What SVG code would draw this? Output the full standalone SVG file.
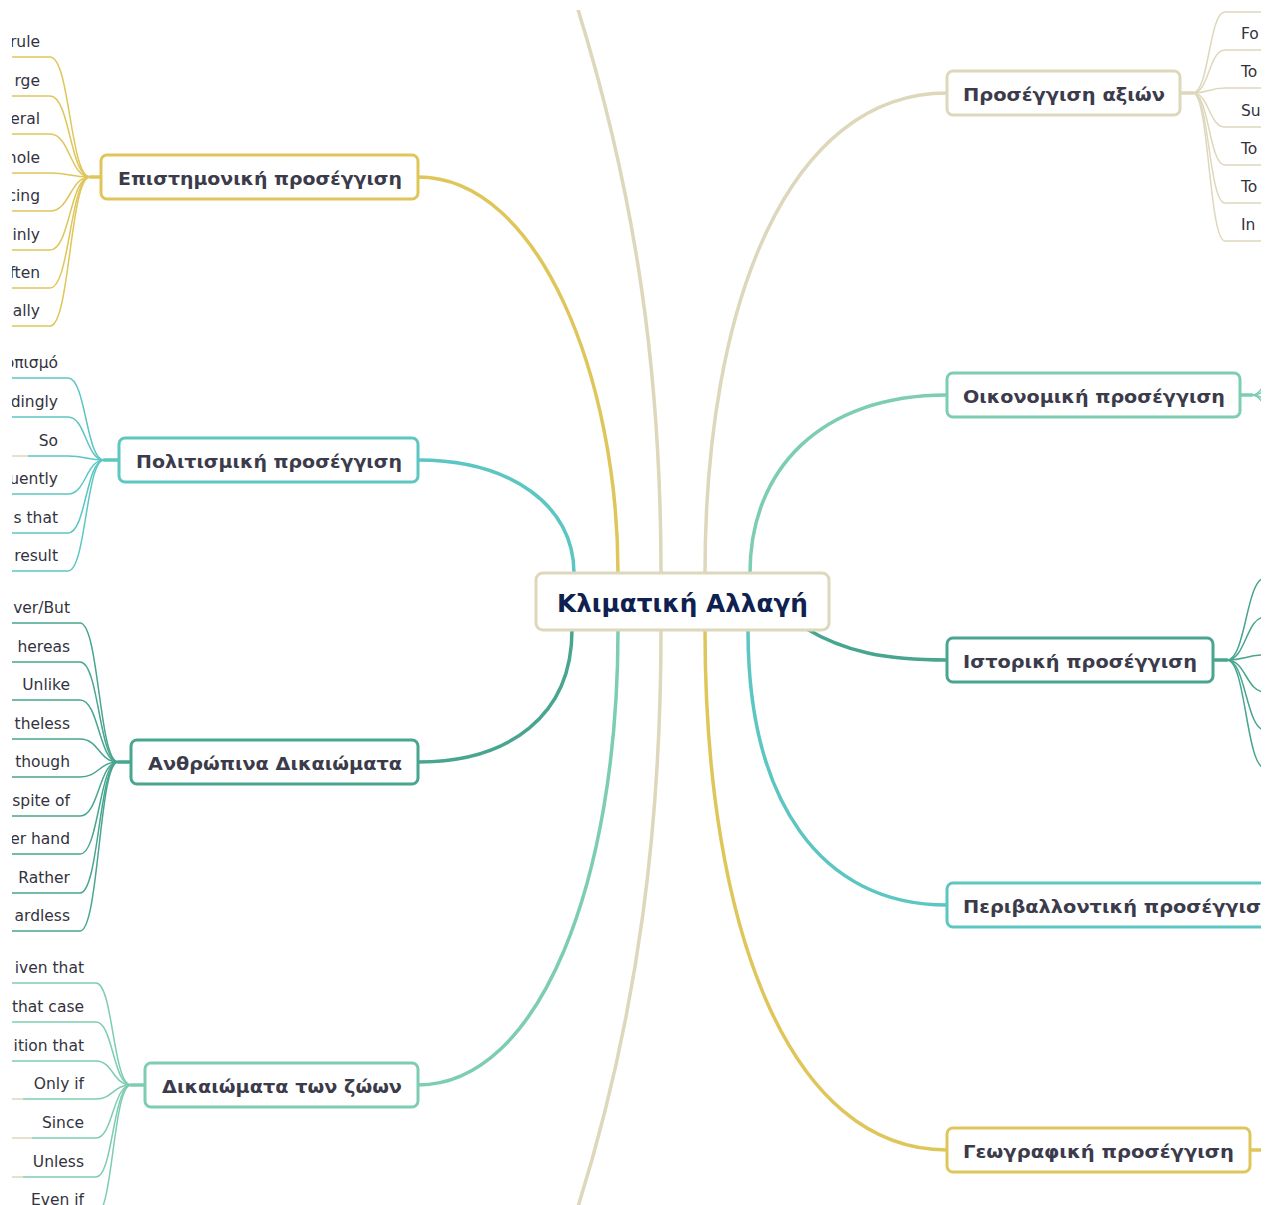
<svg xmlns="http://www.w3.org/2000/svg" width="1272" height="1205" viewBox="0 0 1272 1205">
<defs>
<clipPath id="view"><rect x="12" y="10" width="1249" height="1195"/></clipPath>
<style>
.bx{fill:#fff;stroke-width:3}
.t{font-family:"DejaVu Sans",Verdana,sans-serif;font-weight:bold;font-size:18px;fill:#3b3b4b}
.ct{font-family:"DejaVu Sans",Verdana,sans-serif;font-weight:bold;font-size:24px;fill:#0e2150}
.lf{font-family:"DejaVu Sans",Verdana,sans-serif;font-size:15.5px;fill:#333340}
.lr{text-anchor:end}
.m{fill:none;stroke-width:3.5;stroke-linecap:round}
.l{fill:none;stroke-width:1.5}
.y{stroke:#dfc65b}.b{stroke:#ddd7bc}.tl{stroke:#5cc6c2}.dt{stroke:#48a58f}.g{stroke:#7dcdb0}
</style>
</defs>
<rect width="1272" height="1205" fill="#fff"/>
<g clip-path="url(#view)">
<g id="connectors">
<path class="m b" d="M661,573 C661,380 638,200 575,0"/>
<path class="m b" d="M661,630 C661,820 640,1010 577,1210"/>
<path class="m y" d="M418,177 C540,177 618,380 618,573"/>
<path class="m tl" d="M418,460 C510,460 574,505 574,573"/>
<path class="m dt" d="M418,762 C510,762 572,715 572,630"/>
<path class="m g" d="M418,1085 C540,1085 618,880 618,630"/>
<path class="m b" d="M947,93 C790,93 705,300 705,573"/>
<path class="m g" d="M947,395 C820,395 750,470 750,573"/>
<path class="m dt" d="M805,628 C845,652 885,660 947,660"/>
<path class="m tl" d="M947,905 C820,905 748,800 748,630"/>
<path class="m y" d="M947,1150 C790,1150 705,930 705,630"/>
<path class="m y" d="M90,177 H101" stroke-width="3"/>
<path class="l y" d="M0,57 H50 C70,57 70,177 90,177"/>
<path class="l y" d="M0,96 H50 C70,96 70,177 90,177"/>
<path class="l y" d="M0,134 H50 C70,134 70,177 90,177"/>
<path class="l y" d="M0,173 H50 C70,173 70,177 90,177"/>
<path class="l y" d="M0,211 H50 C70,211 70,177 90,177"/>
<path class="l y" d="M0,250 H50 C70,250 70,177 90,177"/>
<path class="l y" d="M0,288 H50 C70,288 70,177 90,177"/>
<path class="l y" d="M0,326 H50 C70,326 70,177 90,177"/>
<path class="m tl" d="M104,460 H119" stroke-width="3"/>
<path class="l tl" d="M0,378 H68 C86,378 86,460 104,460"/>
<path class="l tl" d="M0,417 H68 C86,417 86,460 104,460"/>
<path class="l tl" d="M28,456 H68 C86,456 86,460 104,460"/>
<path class="l b" d="M0,456 H28"/>
<path class="l tl" d="M0,494 H68 C86,494 86,460 104,460"/>
<path class="l tl" d="M0,533 H68 C86,533 86,460 104,460"/>
<path class="l tl" d="M0,571 H68 C86,571 86,460 104,460"/>
<path class="m dt" d="M118,762 H131" stroke-width="3"/>
<path class="l dt" d="M0,623 H80 C99,623 99,762 118,762"/>
<path class="l dt" d="M0,662 H80 C99,662 99,762 118,762"/>
<path class="l dt" d="M0,700 H80 C99,700 99,762 118,762"/>
<path class="l dt" d="M0,739 H80 C99,739 99,762 118,762"/>
<path class="l dt" d="M0,777 H80 C99,777 99,762 118,762"/>
<path class="l dt" d="M0,816 H80 C99,816 99,762 118,762"/>
<path class="l dt" d="M0,854 H80 C99,854 99,762 118,762"/>
<path class="l dt" d="M0,893 H80 C99,893 99,762 118,762"/>
<path class="l dt" d="M0,931 H80 C99,931 99,762 118,762"/>
<path class="m g" d="M131,1085 H145" stroke-width="3"/>
<path class="l g" d="M0,983 H96 C113,983 113,1085 131,1085"/>
<path class="l g" d="M0,1022 H96 C113,1022 113,1085 131,1085"/>
<path class="l g" d="M0,1061 H96 C113,1061 113,1085 131,1085"/>
<path class="l g" d="M23,1099 H96 C113,1099 113,1085 131,1085"/>
<path class="l b" d="M0,1099 H23"/>
<path class="l g" d="M32,1138 H96 C113,1138 113,1085 131,1085"/>
<path class="l b" d="M0,1138 H32"/>
<path class="l g" d="M23,1177 H96 C113,1177 113,1085 131,1085"/>
<path class="l b" d="M0,1177 H23"/>
<path class="l g" d="M0,1215 H96 C113,1215 113,1085 131,1085"/>
<path class="m b" d="M1180,93 H1193" stroke-width="3"/>
<path class="l b" d="M1193,93 C1209,93 1209,12 1225,12 H1280"/>
<path class="l b" d="M1193,93 C1209,93 1209,50 1225,50 H1280"/>
<path class="l b" d="M1193,93 C1209,93 1209,88 1225,88 H1280"/>
<path class="l b" d="M1193,93 C1209,93 1209,127 1225,127 H1280"/>
<path class="l b" d="M1193,93 C1209,93 1209,165 1225,165 H1280"/>
<path class="l b" d="M1193,93 C1209,93 1209,203 1225,203 H1280"/>
<path class="l b" d="M1193,93 C1209,93 1209,241 1225,241 H1280"/>
<path class="m g" d="M1240,395 H1252" stroke-width="3"/>
<path class="l g" d="M1252,395 C1272,395 1272,330 1292,330"/>
<path class="l g" d="M1252,395 C1272,395 1272,460 1292,460"/>
<path class="l g" d="M1252,395 C1272,395 1272,370 1292,370"/>
<path class="l g" d="M1252,395 C1272,395 1272,420 1292,420"/>
<path class="m dt" d="M1213,660 H1227" stroke-width="3"/>
<path class="l dt" d="M1227,660 C1246,660 1246,578 1265,578 H1290"/>
<path class="l dt" d="M1227,660 C1246,660 1246,617 1265,617 H1290"/>
<path class="l dt" d="M1227,660 C1246,660 1246,655 1265,655 H1290"/>
<path class="l dt" d="M1227,660 C1246,660 1246,692 1265,692 H1290"/>
<path class="l dt" d="M1227,660 C1246,660 1246,730 1265,730 H1290"/>
<path class="l dt" d="M1227,660 C1246,660 1246,768 1265,768 H1290"/>
<path class="m y" d="M1250,1150 H1270" stroke-width="3"/>
</g>

<g id="center">
<rect class="bx" x="536" y="573" width="293" height="57" rx="7" stroke="#ddd7bc"/>
<text class="ct" x="682.5" y="612" text-anchor="middle" textLength="251" lengthAdjust="spacingAndGlyphs">Κλιματική Αλλαγή</text>
</g>

<g id="n-epistimoniki">
<rect class="bx" x="101" y="155" width="317" height="44" rx="6" stroke="#dfc65b"/>
<text class="t" x="118" y="185" textLength="284" lengthAdjust="spacingAndGlyphs">Επιστημονική προσέγγιση</text>
</g>
<g id="n-politismiki">
<rect class="bx" x="119" y="438" width="299" height="44" rx="6" stroke="#5cc6c2"/>
<text class="t" x="136" y="468" textLength="266" lengthAdjust="spacingAndGlyphs">Πολιτισμική προσέγγιση</text>
</g>
<g id="n-anthropina">
<rect class="bx" x="131" y="740" width="287" height="44" rx="6" stroke="#48a58f"/>
<text class="t" x="148" y="770" textLength="254" lengthAdjust="spacingAndGlyphs">Ανθρώπινα Δικαιώματα</text>
</g>
<g id="n-zoon">
<rect class="bx" x="145" y="1063" width="273" height="44" rx="6" stroke="#7dcdb0"/>
<text class="t" x="162" y="1093" textLength="240" lengthAdjust="spacingAndGlyphs">Δικαιώματα των ζώων</text>
</g>
<g id="n-axion">
<rect class="bx" x="947" y="71" width="233" height="44" rx="6" stroke="#ddd7bc"/>
<text class="t" x="963" y="101" textLength="202" lengthAdjust="spacingAndGlyphs">Προσέγγιση αξιών</text>
</g>
<g id="n-oikonomiki">
<rect class="bx" x="947" y="373" width="293" height="44" rx="6" stroke="#7dcdb0"/>
<text class="t" x="963" y="403" textLength="262" lengthAdjust="spacingAndGlyphs">Οικονομική προσέγγιση</text>
</g>
<g id="n-istoriki">
<rect class="bx" x="947" y="638" width="266" height="44" rx="6" stroke="#48a58f"/>
<text class="t" x="963" y="668" textLength="234" lengthAdjust="spacingAndGlyphs">Ιστορική προσέγγιση</text>
</g>
<g id="n-perivallontiki">
<rect class="bx" x="947" y="883" width="345" height="44" rx="6" stroke="#5cc6c2"/>
<text class="t" x="963" y="913" textLength="312" lengthAdjust="spacingAndGlyphs">Περιβαλλοντική προσέγγιση</text>
</g>
<g id="n-geografiki">
<rect class="bx" x="947" y="1128" width="303" height="44" rx="6" stroke="#dfc65b"/>
<text class="t" x="963" y="1158" textLength="271" lengthAdjust="spacingAndGlyphs">Γεωγραφική προσέγγιση</text>
</g>

<g id="leaves-epistimoniki" class="lf lr">
<g id="l1-1"><text x="40" y="47">rule</text></g>
<g id="l1-2"><text x="40" y="86">rge</text></g>
<g id="l1-3"><text x="40" y="124">eral</text></g>
<g id="l1-4"><text x="40" y="163">hole</text></g>
<g id="l1-5"><text x="40" y="201">cing</text></g>
<g id="l1-6"><text x="40" y="240">inly</text></g>
<g id="l1-7"><text x="40" y="278">ften</text></g>
<g id="l1-8"><text x="40" y="316">ally</text></g>
</g>
<g id="leaves-politismiki" class="lf lr">
<g id="l2-1"><text x="58" y="368">οπισμό</text></g>
<g id="l2-2"><text x="58" y="407">dingly</text></g>
<g id="l2-3"><text x="58" y="446">So</text></g>
<g id="l2-4"><text x="58" y="484">uently</text></g>
<g id="l2-5"><text x="58" y="523">s that</text></g>
<g id="l2-6"><text x="58" y="561">result</text></g>
</g>
<g id="leaves-anthropina" class="lf lr">
<g id="l3-1"><text x="70" y="613">ver/But</text></g>
<g id="l3-2"><text x="70" y="652">hereas</text></g>
<g id="l3-3"><text x="70" y="690">Unlike</text></g>
<g id="l3-4"><text x="70" y="729">theless</text></g>
<g id="l3-5"><text x="70" y="767">though</text></g>
<g id="l3-6"><text x="70" y="806">spite of</text></g>
<g id="l3-7"><text x="70" y="844">er hand</text></g>
<g id="l3-8"><text x="70" y="883">Rather</text></g>
<g id="l3-9"><text x="70" y="921">ardless</text></g>
</g>
<g id="leaves-zoon" class="lf lr">
<g id="l4-1"><text x="84" y="973">iven that</text></g>
<g id="l4-2"><text x="84" y="1012">that case</text></g>
<g id="l4-3"><text x="84" y="1051">ition that</text></g>
<g id="l4-4"><text x="84" y="1089">Only if</text></g>
<g id="l4-5"><text x="84" y="1128">Since</text></g>
<g id="l4-6"><text x="84" y="1167">Unless</text></g>
<g id="l4-7"><text x="84" y="1205">Even if</text></g>
</g>
<g id="leaves-axion" class="lf">
<g id="l5-1"><text x="1241" y="39">Fo</text></g>
<g id="l5-2"><text x="1241" y="77">To</text></g>
<g id="l5-3"><text x="1241" y="116">Su</text></g>
<g id="l5-4"><text x="1241" y="154">To</text></g>
<g id="l5-5"><text x="1241" y="192">To</text></g>
<g id="l5-6"><text x="1241" y="230">In</text></g>
</g>
</g>
</svg>
